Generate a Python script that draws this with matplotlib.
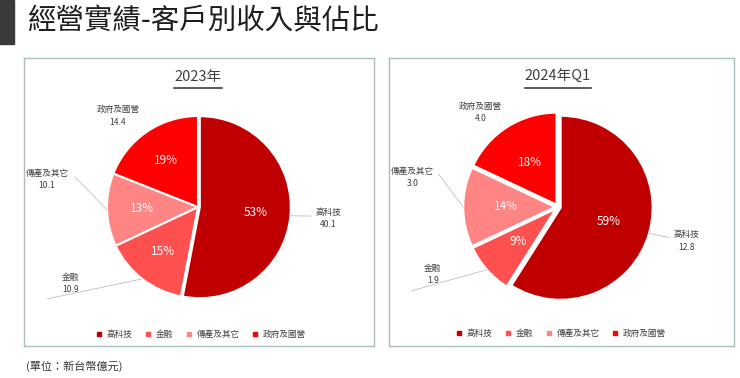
import numpy as np
import matplotlib.pyplot as plt
from matplotlib.lines import Line2D
from matplotlib.patches import Rectangle

plt.rcParams['font.family'] = ['Noto Sans CJK TC', 'DejaVu Sans']

# DATA
categories = ['高科技', '金融', '傳產及其它', '政府及國營']
revenue_2023 = [40.1, 10.9, 10.1, 14.4]
share_2023 = [53, 15, 13, 19]
revenue_2024q1 = [12.8, 1.9, 3.0, 4.0]
share_2024q1 = [59, 9, 14, 18]

COLORS = ['#C00000', '#FF5050', '#FF8585', '#FF0000']
BORDER = '#A9BEBE'
TXT = '#404040'
W, H = 740, 378


def make_axes(fig, box, center, r):
    # axes covering the panel box, data units = pie radius
    x0, y0, x1, y1 = box
    cx, cy = center
    ax = fig.add_axes([x0 / W, 1 - y1 / H, (x1 - x0) / W, (y1 - y0) / H])
    return ax, ((x0 - cx) / r, (x1 - cx) / r), ((cy - y1) / r, (cy - y0) / r)


def draw_panel(fig, title, values, shares, box, center, r, explode, pctdist,
               title_y, line_y, legend_y, label_pos, leader_end):
    ax, xl, yl = make_axes(fig, box, center, r)
    wedges, _, autotexts = ax.pie(
        shares, colors=COLORS, startangle=90, counterclock=False,
        explode=explode, autopct=lambda p: f'{p:.0f}%', pctdistance=pctdist,
        wedgeprops=dict(edgecolor='white', linewidth=1.5),
        textprops=dict(color='white', fontsize=8.5), frame=True)
    ax.set_xlim(*xl)
    ax.set_ylim(*yl)
    ax.set_aspect('auto')
    ax.set_xticks([])
    ax.set_yticks([])
    for s in ax.spines.values():
        s.set_color(BORDER)
        s.set_linewidth(1)

    for w, cat, val, pos, end in zip(wedges, categories, values, label_pos, leader_end):
        ax.text(pos[0], pos[1], f'{cat}\n{val:.1f}', ha='center', va='center',
                fontsize=6.2, color=TXT, linespacing=1.45)
        if end is not None:
            ang = np.deg2rad((w.theta1 + w.theta2) / 2)
            sx = w.center[0] + np.cos(ang)
            sy = w.center[1] + np.sin(ang)
            ax.plot([sx, end[0]], [sy, end[1]], color='#BFBFBF', lw=0.6)

    t = ax.text(0, title_y, title, ha='center', va='center', fontsize=10.5, color=TXT)
    fig.canvas.draw()
    bb = t.get_window_extent().transformed(ax.transData.inverted())
    ax.plot([bb.x0, bb.x1], [line_y, line_y], color=TXT, lw=1.2)

    handles = [Line2D([], [], marker='s', ls='', color=c, markersize=2.5) for c in COLORS]
    ax.legend(handles, categories, loc='center', bbox_to_anchor=(0.03, legend_y),
              bbox_transform=ax.transData, ncol=4, frameon=False, fontsize=6.2,
              handlelength=0.8, handletextpad=0.5, columnspacing=1.4,
              labelcolor=TXT)


fig = plt.figure(figsize=(W / 100, H / 100), dpi=100)
fig.patches.append(Rectangle((0, 1 - 44 / H), 14 / W, 44 / H,
                             transform=fig.transFigure, color='#3A3A3A'))
fig.text(28 / W, 1 - 21 / H, '經營實績-客戶別收入與佔比', fontsize=20.5,
         va='center', ha='left', color='#1E1E1E')
fig.text(26 / W, 1 - 366 / H, '(單位：新台幣億元)', fontsize=8,
         va='center', ha='left', color='#333333')

draw_panel(fig, '2023年', revenue_2023, share_2023,
           box=(24, 58, 374, 346), center=(198, 207), r=91,
           explode=[0.02, 0, 0, 0], pctdist=0.62, title_y=1.43, line_y=1.31,
           legend_y=-1.40,
           label_pos=[(1.43, -0.13), (-1.40, -0.84), (-1.66, 0.30), (-0.88, 1.0)],
           leader_end=[(1.24, -0.10), (-1.66, -1.01), (-1.35, 0.33), None])

draw_panel(fig, '2024年Q1', revenue_2024q1, share_2024q1,
           box=(389, 58, 734, 346), center=(558, 207), r=92,
           explode=[0.03, 0.03, 0.03, 0.03], pctdist=0.54, title_y=1.41, line_y=1.29,
           legend_y=-1.37,
           label_pos=[(1.40, -0.37), (-1.36, -0.73), (-1.58, 0.32), (-0.84, 1.03)],
           leader_end=[(1.20, -0.33), (-1.59, -0.91), (-1.30, 0.36), None])

fig.savefig('out.png', dpi=100)
